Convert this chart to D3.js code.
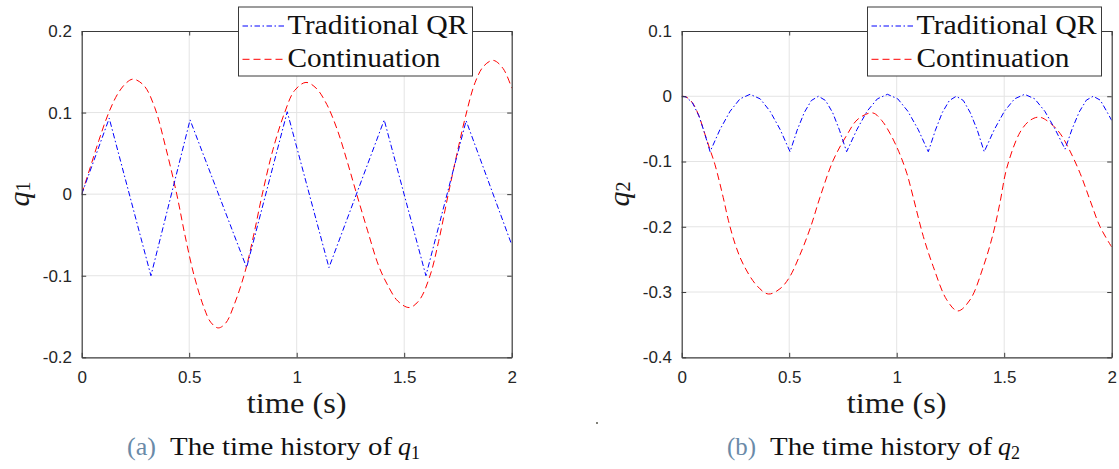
<!DOCTYPE html>
<html><head><meta charset="utf-8">
<script src="https://cdn.jsdelivr.net/npm/d3@7"></script>
<style>body{margin:0;background:#fff}</style>
</head><body><svg id="c" width="1119" height="469"></svg>
<script>
const timeTicks = [0, 0.5, 1, 1.5, 2];
const q1Ticks = [-0.2, -0.1, 0, 0.1, 0.2];
const q2Ticks = [-0.4, -0.3, -0.2, -0.1, 0, 0.1];
const seriesNames = ["Traditional QR", "Continuation"];

const q1Traditional = [[0,0],[0.128,0.093],[0.322,-0.1],[0.504,0.091],[0.767,-0.09],[0.956,0.101],[1.150,-0.09],[1.407,0.091],[1.601,-0.1],[1.788,0.09],[2.0,-0.062]];
const q1Continuation = [[0,0],[0.04,0.033],[0.08,0.066],[0.126,0.1],[0.17,0.124],[0.21,0.137],[0.24,0.141],[0.29,0.133],[0.34,0.106],[0.39,0.058],[0.442,0],[0.48,-0.05],[0.523,-0.1],[0.57,-0.14],[0.60,-0.157],[0.635,-0.164],[0.67,-0.158],[0.71,-0.135],[0.76,-0.095],[0.80,-0.05],[0.84,0],[0.89,0.055],[0.944,0.1],[0.99,0.127],[1.043,0.137],[1.09,0.13],[1.14,0.11],[1.19,0.078],[1.235,0.04],[1.279,0],[1.33,-0.045],[1.38,-0.087],[1.42,-0.11],[1.47,-0.131],[1.524,-0.139],[1.57,-0.13],[1.62,-0.1],[1.66,-0.058],[1.705,0],[1.75,0.055],[1.785,0.095],[1.83,0.137],[1.87,0.157],[1.914,0.164],[1.96,0.154],[2.0,0.13]];
const q2Traditional = [[0,0],[0.02,-0.001],[0.05,-0.01],[0.08,-0.03],[0.105,-0.055],[0.132,-0.085],[0.178,-0.051],[0.225,-0.023],[0.271,-0.004],[0.318,0.003],[0.365,-0.004],[0.411,-0.023],[0.458,-0.051],[0.504,-0.085],[0.537,-0.052],[0.570,-0.025],[0.603,-0.0065],[0.636,0],[0.669,-0.0065],[0.702,-0.025],[0.734,-0.052],[0.767,-0.085],[0.815,-0.051],[0.862,-0.023],[0.910,-0.004],[0.957,0.003],[1.005,-0.004],[1.052,-0.023],[1.100,-0.051],[1.147,-0.085],[1.180,-0.052],[1.212,-0.025],[1.245,-0.0065],[1.277,0],[1.310,-0.0065],[1.342,-0.025],[1.375,-0.052],[1.407,-0.085],[1.454,-0.051],[1.501,-0.023],[1.548,-0.004],[1.595,0.003],[1.642,-0.004],[1.689,-0.023],[1.736,-0.05],[1.783,-0.081],[1.816,-0.05],[1.849,-0.024],[1.882,-0.006],[1.914,0],[1.947,-0.006],[1.980,-0.025],[2.0,-0.037]];
const q2Continuation = [[0,0],[0.02,-0.001],[0.05,-0.01],[0.08,-0.03],[0.105,-0.055],[0.132,-0.082],[0.155,-0.105],[0.193,-0.155],[0.217,-0.19],[0.25,-0.228],[0.287,-0.258],[0.349,-0.29],[0.403,-0.303],[0.457,-0.295],[0.50,-0.278],[0.55,-0.243],[0.60,-0.2],[0.643,-0.155],[0.705,-0.098],[0.767,-0.06],[0.82,-0.035],[0.888,-0.0255],[0.93,-0.037],[0.969,-0.057],[1.01,-0.085],[1.047,-0.118],[1.077,-0.155],[1.124,-0.215],[1.17,-0.261],[1.233,-0.312],[1.284,-0.329],[1.341,-0.312],[1.403,-0.261],[1.449,-0.21],[1.481,-0.162],[1.512,-0.11],[1.574,-0.055],[1.62,-0.037],[1.663,-0.032],[1.71,-0.04],[1.76,-0.057],[1.80,-0.08],[1.853,-0.118],[1.90,-0.16],[1.946,-0.2],[2.0,-0.231]];

const svg = d3.select("#c");
const axisColor = "#3a3a3a";
const gridColor = "#e4e4e4";
const blue = "#0000ff", red = "#ff0000";
const blueDash = "5.5,2.5,1.5,2.5", redDash = "7,4";
const serif = "'Liberation Serif', 'Times New Roman', serif";
const sans = "'Liberation Sans', Arial, Helvetica, sans-serif";

const panels = [
  {ox: 0, domain: [-0.2, 0.2], ticks: q1Ticks, qr: q1Traditional, cont: q1Continuation, sub: "1", tag: "(a)", legendX: 238.5, id: "a"},
  {ox: 600, domain: [-0.4, 0.1], ticks: q2Ticks, qr: q2Traditional, cont: q2Continuation, sub: "2", tag: "(b)", legendX: 867.5, id: "b"}
];

panels.forEach(p => {
  const L = p.ox + 81.7, R = p.ox + 511.7, T = 31, B = 357.3;
  const x = d3.scaleLinear().domain([0, 2]).range([L, R]);
  const y = d3.scaleLinear().domain(p.domain).range([B, T]);
  const g = svg.append("g");

  // grid
  g.append("g").selectAll("line").data(timeTicks.slice(1, -1)).join("line")
    .attr("x1", d => x(d)).attr("x2", d => x(d)).attr("y1", T).attr("y2", B)
    .attr("stroke", gridColor).attr("stroke-width", 1);
  g.append("g").selectAll("line").data(p.ticks.slice(1, -1)).join("line")
    .attr("y1", d => y(d)).attr("y2", d => y(d)).attr("x1", L).attr("x2", R)
    .attr("stroke", gridColor).attr("stroke-width", 1);

  // clip
  svg.append("clipPath").attr("id", "clip" + p.id).append("rect")
    .attr("x", L).attr("y", T).attr("width", R - L).attr("height", B - T);

  const lines = g.append("g").attr("clip-path", `url(#clip${p.id})`);
  lines.append("path").datum(p.cont)
    .attr("d", d3.line().x(d => x(d[0])).y(d => y(d[1])).curve(d3.curveCatmullRom.alpha(0.5)))
    .attr("fill", "none").attr("stroke", red).attr("stroke-width", 1).attr("stroke-dasharray", redDash);
  lines.append("path").datum(p.qr)
    .attr("d", d3.line().x(d => x(d[0])).y(d => y(d[1])).curve(d3.curveLinear))
    .attr("fill", "none").attr("stroke", blue).attr("stroke-width", 1).attr("stroke-dasharray", blueDash);

  // axes
  const styleAxis = sel => {
    sel.attr("font-size", null).attr("font-family", null);
    sel.select(".domain").attr("stroke", axisColor).attr("stroke-width", 1.2);
    sel.selectAll(".tick line").attr("stroke", axisColor).attr("stroke-width", 1);
    sel.selectAll("text").attr("fill", "#262626").attr("font-family", sans).attr("font-size", 17);
  };
  g.append("g").attr("transform", `translate(0,${B})`)
    .call(d3.axisBottom(x).tickValues(timeTicks).tickFormat(d3.format("")).tickSize(-4.5).tickSizeOuter(0).tickPadding(14))
    .call(styleAxis);
  g.append("g").attr("transform", `translate(0,${T})`)
    .call(d3.axisTop(x).tickValues(timeTicks).tickFormat("").tickSize(-4.5).tickSizeOuter(0))
    .call(styleAxis);
  g.append("g").attr("transform", `translate(${L},0)`)
    .call(d3.axisLeft(y).tickValues(p.ticks).tickFormat(d => d === 0 ? "0" : d3.format(".1f")(d).replace("\u2212", "-")).tickSize(-4.5).tickSizeOuter(0).tickPadding(9.7))
    .call(styleAxis);
  g.append("g").attr("transform", `translate(${R},0)`)
    .call(d3.axisRight(y).tickValues(p.ticks).tickFormat("").tickSize(-4.5).tickSizeOuter(0))
    .call(styleAxis);

  // x label
  g.append("text").attr("x", (L + R) / 2).attr("y", 413).attr("text-anchor", "middle")
    .attr("font-family", serif).attr("font-size", 29).attr("fill", "#1a1a1a")
    .attr("textLength", 100).attr("lengthAdjust", "spacingAndGlyphs").text("time (s)");

  // y label
  const yl = g.append("text").attr("transform", `translate(${p.ox + 18},194) rotate(-90)`)
    .attr("text-anchor", "middle").attr("dominant-baseline", "central")
    .attr("font-family", serif).attr("fill", "#1a1a1a");
  yl.append("tspan").attr("font-style", "italic").attr("font-size", 30).text("q");
  yl.append("tspan").attr("font-size", 20).attr("dy", 5).text(p.sub);

  // legend
  const lx = p.legendX, ly = 7;
  const lg = g.append("g");
  lg.append("rect").attr("x", lx).attr("y", ly).attr("width", 234).attr("height", 69)
    .attr("fill", "#fff").attr("stroke", axisColor).attr("stroke-width", 1);
  const rows = [{name: seriesNames[0], color: blue, dash: blueDash, cy: 26, w: 180},
                {name: seriesNames[1], color: red, dash: redDash, cy: 59.3, w: 153}];
  rows.forEach(r => {
    lg.append("line").attr("x1", lx + 4).attr("x2", lx + 46).attr("y1", r.cy).attr("y2", r.cy)
      .attr("stroke", r.color).attr("stroke-width", 1).attr("stroke-dasharray", r.dash);
    lg.append("text").attr("x", lx + 49).attr("y", r.cy + 7.5)
      .attr("font-family", serif).attr("font-size", 27).attr("fill", "#111")
      .attr("textLength", r.w).attr("lengthAdjust", "spacingAndGlyphs").text(r.name);
  });

  // caption
  const cx = p.ox + 127;
  g.append("text").attr("x", cx).attr("y", 455).attr("font-family", serif).attr("font-size", 26)
    .attr("fill", "#6a8aa8").attr("textLength", 29).attr("lengthAdjust", "spacingAndGlyphs").text(p.tag);
  g.append("text").attr("x", cx + 43).attr("y", 455).attr("font-family", serif).attr("font-size", 26)
    .attr("fill", "#111").attr("textLength", 222).attr("lengthAdjust", "spacingAndGlyphs").text("The time history of");
  const cq = g.append("text").attr("x", cx + 271).attr("y", 455).attr("font-family", serif).attr("fill", "#111");
  cq.append("tspan").attr("font-style", "italic").attr("font-size", 26).text("q");
  cq.append("tspan").attr("font-size", 18).attr("dy", 4).text(p.sub);
});

// small stray mark in the source
svg.append("rect").attr("x", 596).attr("y", 422).attr("width", 2).attr("height", 2).attr("fill", "#808078");
</script></body></html>
